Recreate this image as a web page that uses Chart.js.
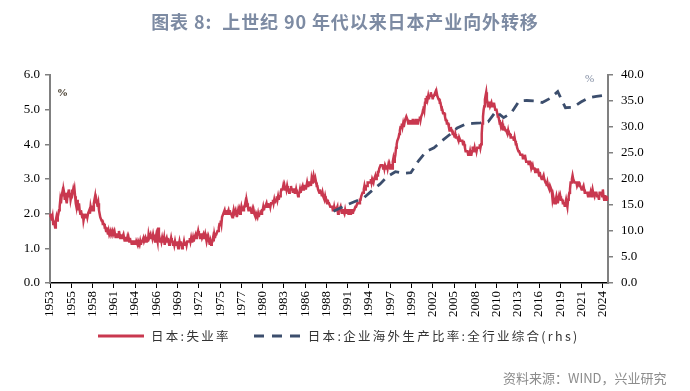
<!DOCTYPE html>
<html>
<head>
<meta charset="utf-8">
<script src="https://cdn.jsdelivr.net/npm/chart.js@4.4.1/dist/chart.umd.min.js"></script>
<style>
  html, body { margin: 0; padding: 0; background: #fff; }
  #wrap { position: relative; width: 690px; height: 391px; overflow: hidden; }
  #chartBox { position: absolute; left: 0; top: 0; width: 690px; height: 391px; }
  .ov { position: absolute; white-space: nowrap; }
  #title { left: 0; width: 690px; top: 8px; text-align: center; font: bold 18px "Noto Sans CJK SC", sans-serif; letter-spacing: 0.9px; color: #7d8ba3; }
  #pctL { left: 57px; top: 86px; font: bold 11px "Liberation Serif", serif; color: #3a3020; }
  #pctR { left: 585px; top: 72px; font: 11px "Liberation Serif", serif; color: #7f8aa0; }
  #legend { left: 98px; top: 326px; font: 12.5px "Noto Sans CJK SC", sans-serif; color: #333; letter-spacing: 2.3px; display: flex; align-items: center; }
  #legend svg { margin-right: 7px; }
  #source { left: 503px; top: 368px; font: 13px "Noto Sans CJK SC", sans-serif; color: #8c8c8c; }
</style>
</head>
<body>
<div id="wrap">
  <div id="chartBox"><canvas id="c"></canvas></div>
  <div class="ov" id="title">图表 8:&nbsp; 上世纪 90 年代以来日本产业向外转移</div>
  <div class="ov" id="pctL">%</div>
  <div class="ov" id="pctR">%</div>
  <div class="ov" id="legend">
    <svg width="46" height="6"><line x1="0" y1="3" x2="46" y2="3" stroke="#c9384f" stroke-width="3"/></svg>
    <span id="leg1">日本:失业率</span>
    <svg width="48" height="6" style="margin-left:22px"><line x1="1" y1="3" x2="48" y2="3" stroke="#3c4e6d" stroke-width="3" stroke-dasharray="10,8"/></svg>
    <span id="leg2">日本:企业海外生产比率:全行业综合(rhs)</span>
  </div>
  <div class="ov" id="source">资料来源：WIND，兴业研究</div>
</div>
<script>
// ---- categories: monthly, Jan 1953 .. Mar 2025 ----
const startYear = 1953;
const monthCount = 867;
const monthLabels = [];
for (let i = 0; i < monthCount; i++) {
  monthLabels.push(`${startYear + Math.floor(i / 12)}-${String(i % 12 + 1).padStart(2, '0')}`);
}

// ---- Japan unemployment rate (%), monthly, left axis ----
const unemploymentRate = [
  1.9,2.0,1.9,1.8,1.9,1.7,1.8,1.7,1.6,1.8,1.9,1.8, // 1953
  1.9,2.0,2.1,2.2,2.4,2.3,2.5,2.6,2.5,2.7,2.6,2.4, // 1954
  2.6,2.4,2.3,2.5,2.6,2.7,2.5,2.6,2.4,2.5,2.7,2.6, // 1955
  2.7,2.6,2.7,2.5,2.3,2.2,2.4,2.1,2.2,2.3,2.1,2.0, // 1956
  2.1,2.0,1.9,2.0,1.8,1.9,2.0,1.9,1.9,2.0,1.9,2.0, // 1957
  2.0,2.1,2.0,2.2,2.1,2.2,2.2,2.1,2.3,2.4,2.5,2.3, // 1958
  2.4,2.3,2.2,2.3,2.1,2.0,1.9,1.9,1.8,1.8,1.7,1.7, // 1959
  1.7,1.6,1.6,1.5,1.6,1.5,1.4,1.5,1.4,1.4,1.5,1.4, // 1960
  1.4,1.5,1.4,1.4,1.5,1.4,1.3,1.4,1.4,1.3,1.4,1.5, // 1961
  1.4,1.3,1.4,1.3,1.3,1.3,1.4,1.3,1.2,1.3,1.3,1.2, // 1962
  1.3,1.2,1.3,1.2,1.3,1.2,1.2,1.1,1.2,1.2,1.1,1.2, // 1963
  1.2,1.1,1.2,1.2,1.1,1.2,1.2,1.1,1.2,1.1,1.2,1.2, // 1964
  1.2,1.3,1.2,1.2,1.3,1.2,1.3,1.3,1.2,1.4,1.3,1.3, // 1965
  1.4,1.3,1.4,1.3,1.4,1.3,1.3,1.2,1.3,1.4,1.3,1.2, // 1966
  1.6,1.2,1.3,1.2,1.3,1.2,1.3,1.2,1.2,1.3,1.1,1.2, // 1967
  1.2,1.3,1.2,1.3,1.2,1.1,1.2,1.2,1.3,1.2,1.2,1.1, // 1968
  1.2,1.1,1.2,1.1,1.1,1.2,1.1,1.0,1.1,1.2,1.1,1.2, // 1969
  1.1,1.0,1.1,1.1,1.2,1.1,1.1,1.2,1.1,1.2,1.2,1.2, // 1970
  1.2,1.3,1.2,1.3,1.2,1.2,1.3,1.2,1.3,1.3,1.4,1.3, // 1971
  1.4,1.4,1.5,1.4,1.4,1.3,1.4,1.4,1.3,1.3,1.4,1.3, // 1972
  1.3,1.4,1.3,1.2,1.3,1.2,1.3,1.2,1.1,1.2,1.1,1.2, // 1973
  1.2,1.3,1.2,1.4,1.3,1.4,1.4,1.4,1.5,1.5,1.6,1.7, // 1974
  1.7,1.8,1.7,1.9,1.9,2.0,2.0,2.1,2.0,2.1,2.0,2.0, // 1975
  2.0,2.1,2.0,2.1,2.0,2.0,2.0,1.9,2.0,2.1,2.0,2.0, // 1976
  2.1,2.0,1.9,2.0,2.1,2.0,2.1,2.0,2.1,2.2,2.1,2.1, // 1977
  2.1,2.2,2.2,2.3,2.2,2.4,2.3,2.2,2.1,2.1,2.2,2.1, // 1978
  2.1,2.0,2.1,2.0,2.1,2.0,2.0,1.9,2.0,2.0,1.9,2.0, // 1979
  1.9,2.0,2.0,2.1,2.0,2.1,2.1,2.2,2.1,2.2,2.2,2.2, // 1980
  2.3,2.2,2.3,2.2,2.2,2.3,2.2,2.3,2.3,2.3,2.4,2.3, // 1981
  2.4,2.3,2.4,2.4,2.5,2.4,2.5,2.4,2.5,2.5,2.6,2.7, // 1982
  2.7,2.7,2.8,2.7,2.8,2.7,2.8,2.7,2.8,2.7,2.7,2.6, // 1983
  2.7,2.7,2.8,2.7,2.7,2.6,2.7,2.7,2.6,2.6,2.7,2.6, // 1984
  2.6,2.5,2.6,2.6,2.7,2.6,2.7,2.7,2.8,2.7,2.8,2.8, // 1985
  2.8,2.7,2.8,2.9,2.8,2.8,2.9,2.9,2.9,2.8,3.0,2.9, // 1986
  3.0,3.1,3.0,2.9,3.0,2.9,2.8,2.8,2.7,2.7,2.6,2.7, // 1987
  2.6,2.6,2.5,2.6,2.5,2.5,2.4,2.5,2.4,2.4,2.3,2.4, // 1988
  2.3,2.3,2.3,2.2,2.2,2.2,2.2,2.1,2.1,2.2,2.1,2.1, // 1989
  2.1,2.1,2.2,2.0,2.1,2.1,2.1,2.2,2.1,2.0,2.1,2.1, // 1990
  2.1,2.0,2.1,2.0,2.1,2.1,2.1,2.0,2.1,2.1,2.0,2.1, // 1991
  2.1,2.1,2.0,2.1,2.1,2.1,2.2,2.2,2.2,2.3,2.3,2.3, // 1992
  2.3,2.4,2.4,2.5,2.5,2.6,2.6,2.7,2.8,2.7,2.8,2.8, // 1993
  2.8,2.9,2.9,2.9,2.9,2.9,3.0,2.9,3.0,3.0,2.9,3.0, // 1994
  3.0,3.1,3.0,3.1,3.1,3.2,3.2,3.3,3.3,3.4,3.4,3.4, // 1995
  3.4,3.3,3.4,3.3,3.4,3.4,3.3,3.4,3.3,3.4,3.3,3.4, // 1996
  3.3,3.4,3.4,3.3,3.5,3.6,3.5,3.6,3.7,3.9,4.0,4.1, // 1997
  4.1,4.2,4.3,4.4,4.5,4.5,4.6,4.5,4.6,4.5,4.6,4.7, // 1998
  4.7,4.8,4.8,4.7,4.6,4.7,4.6,4.6,4.7,4.6,4.6,4.7, // 1999
  4.7,4.6,4.7,4.6,4.7,4.7,4.6,4.7,4.7,4.7,4.8,4.7, // 2000
  4.8,4.8,4.9,5.0,5.1,5.0,5.2,5.3,5.3,5.4,5.3,5.4, // 2001
  5.3,5.4,5.4,5.5,5.4,5.4,5.3,5.4,5.4,5.4,5.5,5.4, // 2002
  5.5,5.4,5.4,5.3,5.3,5.2,5.2,5.1,5.0,5.0,4.9,4.9, // 2003
  4.9,4.8,4.7,4.7,4.6,4.6,4.6,4.5,4.4,4.4,4.5,4.4, // 2004
  4.4,4.3,4.3,4.3,4.2,4.3,4.2,4.2,4.2,4.2,4.1,4.2, // 2005
  4.2,4.1,4.1,4.1,4.1,4.0,4.1,4.0,3.9,3.8,3.8,3.8, // 2006
  3.8,3.7,3.7,3.7,3.8,3.7,3.7,3.8,3.9,3.9,3.8,3.9, // 2007
  3.8,3.9,3.8,3.9,3.9,3.9,3.9,4.0,3.9,4.0,4.3,4.6, // 2008
  4.8,5.0,5.1,5.3,5.4,5.5,5.3,5.2,5.1,5.2,5.2,5.1, // 2009
  5.1,5.2,5.1,5.2,5.1,5.2,5.1,5.0,5.0,5.0,4.9,4.8, // 2010
  4.8,4.7,4.6,4.6,4.5,4.5,4.6,4.4,4.5,4.5,4.5,4.4, // 2011
  4.4,4.4,4.3,4.4,4.3,4.3,4.3,4.2,4.2,4.2,4.2,4.2, // 2012
  4.1,4.2,4.1,4.0,4.0,3.9,3.9,3.8,3.8,3.8,3.7,3.7, // 2013
  3.7,3.7,3.6,3.6,3.6,3.7,3.6,3.5,3.5,3.5,3.5,3.4, // 2014
  3.5,3.5,3.4,3.3,3.3,3.4,3.3,3.3,3.3,3.2,3.3,3.2, // 2015
  3.2,3.3,3.2,3.1,3.2,3.1,3.1,3.0,3.0,3.0,3.1,3.0, // 2016
  3.0,2.9,2.9,2.8,2.9,2.8,2.8,2.7,2.8,2.8,2.7,2.6, // 2017
  2.4,2.5,2.5,2.3,2.3,2.4,2.5,2.4,2.3,2.4,2.5,2.4, // 2018
  2.5,2.4,2.4,2.4,2.3,2.3,2.3,2.2,2.3,2.4,2.3,2.2, // 2019
  2.4,2.5,2.6,2.7,2.9,2.9,3.0,3.1,3.0,3.0,2.9,2.9, // 2020
  2.9,2.9,2.8,2.8,2.9,2.9,2.8,2.8,2.8,2.7,2.7,2.7, // 2021
  2.8,2.7,2.6,2.6,2.6,2.6,2.6,2.5,2.6,2.6,2.5,2.6, // 2022
  2.5,2.6,2.7,2.6,2.6,2.5,2.6,2.6,2.6,2.5,2.5,2.5, // 2023
  2.4,2.6,2.6,2.6,2.6,2.5,2.7,2.5,2.4,2.5,2.5,2.4, // 2024
  2.5,2.4,2.4                                      // 2025
];

// ---- overseas production ratio, all industries (%), annual, right axis ----
const overseasYears = [1989,1990,1991,1992,1993,1994,1995,1996,1997,1998,1999,2000,
  2001,2002,2003,2004,2005,2006,2007,2008,2009,2010,2011,2012,2013,2014,2015,2016,
  2017,2018,2019,2020,2021,2022,2023,2024];
const overseasRatio = [13.8,14.5,15.2,15.8,16.5,17.8,19.0,20.5,21.4,21.1,21.2,23.5,
  25.3,26.0,27.3,28.5,29.8,30.5,30.7,30.8,31.0,33.0,31.8,32.7,35.0,35.1,35.0,34.7,
  35.5,36.8,33.7,33.8,34.8,35.6,35.9,36.1];
const overseasMonth = '09';

// ---- tick settings ----
const leftTicks = { min: 0, max: 6, step: 1 };
const rightTicks = { min: 0, max: 40, step: 5 };
const xTickEvery = 33;

const RED = '#c9384f';
const NAVY = '#3c4e6d';
const tickFont = { family: '"Liberation Serif", "Times New Roman", serif', size: 13 };

const overseasPoints = overseasYears.map((y, i) => ({ x: `${y}-${overseasMonth}`, y: overseasRatio[i] }));

new Chart(document.getElementById('c'), {
  type: 'line',
  data: {
    labels: monthLabels,
    datasets: [
      {
        label: '日本:失业率',
        data: unemploymentRate,
        yAxisID: 'y',
        borderColor: RED,
        borderWidth: 2.5,
        pointRadius: 0,
        tension: 0,
        order: 1
      },
      {
        label: '日本:企业海外生产比率:全行业综合(rhs)',
        data: overseasPoints,
        yAxisID: 'y1',
        borderColor: NAVY,
        borderWidth: 2.8,
        borderDash: [10, 7],
        pointRadius: 0,
        tension: 0,
        order: 0
      }
    ]
  },
  options: {
    responsive: true,
    maintainAspectRatio: false,
    animation: false,
    layout: { padding: { top: 75, bottom: 0, left: 0, right: 0 } },
    plugins: { legend: { display: false }, tooltip: { enabled: false }, title: { display: false } },
    scales: {
      x: {
        type: 'category',
        offset: false,
        afterBuildTicks: (s) => { s.ticks = s.ticks.filter(t => t.value % xTickEvery === 0); },
        afterFit: (s) => { s.height = 108; },
        ticks: {
          autoSkip: false,
          minRotation: 90,
          maxRotation: 90,
          padding: 3,
          color: '#000',
          font: tickFont,
          callback: (v) => monthLabels[v].slice(0, 4)
        },
        grid: { display: true, drawOnChartArea: false, drawTicks: true, tickLength: 5, color: '#000', lineWidth: 1 },
        border: { display: true, color: '#000', width: 1.5 }
      },
      y: {
        position: 'left',
        min: leftTicks.min, max: leftTicks.max,
        afterFit: (s) => { s.width = 50; },
        ticks: { stepSize: leftTicks.step, color: '#000', font: tickFont, padding: 5, callback: (v) => Number(v).toFixed(1) },
        grid: { display: true, drawOnChartArea: false, drawTicks: true, tickLength: 5, color: '#808080', lineWidth: 1.5 },
        border: { display: true, color: '#808080', width: 2 }
      },
      y1: {
        position: 'right',
        min: rightTicks.min, max: rightTicks.max,
        afterFit: (s) => { s.width = 82; },
        ticks: { stepSize: rightTicks.step, color: '#000', font: tickFont, padding: 8, callback: (v) => Number(v).toFixed(1) },
        grid: { display: true, drawOnChartArea: false, drawTicks: true, tickLength: 5, color: '#808080', lineWidth: 1.5 },
        border: { display: true, color: '#808080', width: 2 }
      }
    }
  }
});
</script>
</body>
</html>
